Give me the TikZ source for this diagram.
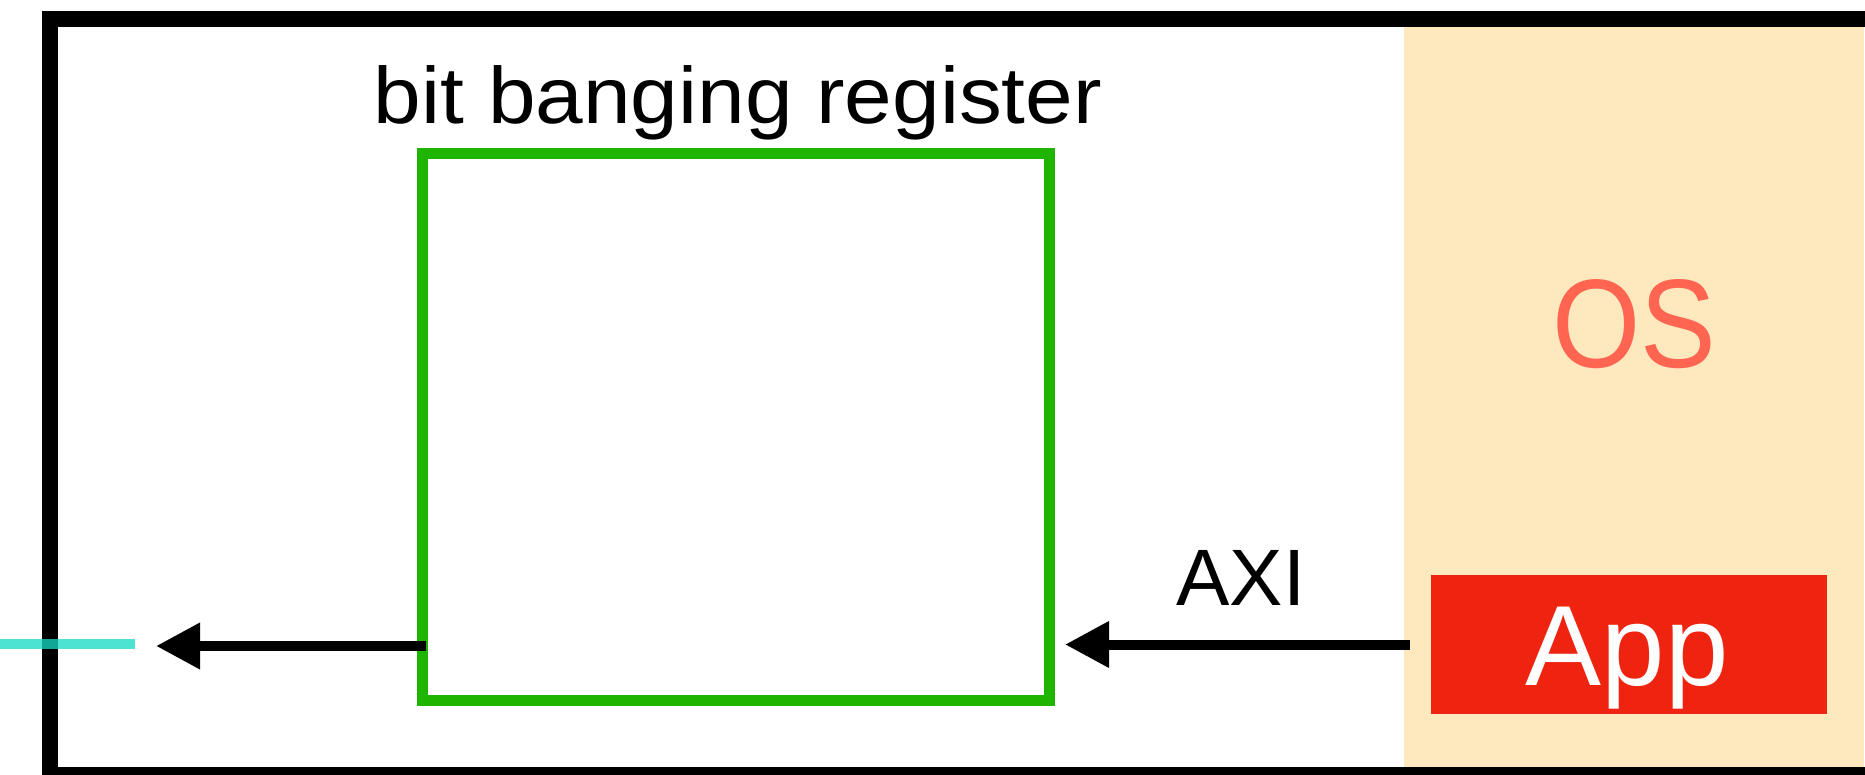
\documentclass[tikz,border=0pt]{standalone}
\usepackage{fontspec}
\setmainfont{Liberation Sans}
\newfontfamily\widefont[FakeStretch=1.07]{Liberation Sans}
\newfontfamily\narrowfont[FakeStretch=0.9]{Liberation Sans}
\usetikzlibrary{arrows.meta}
\definecolor{osbg}{HTML}{FEE8BD}
\definecolor{ostext}{HTML}{FF6550}
\definecolor{appred}{HTML}{EE2410}
\definecolor{reggreen}{HTML}{1EB400}
\definecolor{wire}{RGB}{23,218,197}
\tikzset{
  frame/.style={draw=black, line width=16pt},
  regbox/.style={draw=reggreen, line width=11pt, inner sep=0pt, outer sep=0pt,
    minimum width=627pt, minimum height=546pt},
  appbox/.style={fill=appred, inner sep=0pt, outer sep=0pt,
    minimum width=396pt, minimum height=139pt},
  conn/.style={line width=10pt, -{Triangle[length=44pt,width=44pt]}},
  lbl/.style={inner sep=0pt, anchor=base}
}
\begin{document}
\begin{tikzpicture}[x=1pt,y=-1pt]
\useasboundingbox (0,0) rectangle (1865,775);
\clip (0,0) rectangle (1865,775);
% OS region
\fill[osbg] (1404,27) rectangle (1864,767);
% outer frame
\draw[frame] (50,19) rectangle (1900,775);
% register box
\node[regbox] (reg) at (735.5,427) {};
\node[lbl] (reglbl) at (738,124) {\widefont\fontsize{80}{90}\selectfont bit banging register};
% App
\node[appbox] (app) at (1629,644.5) {};
\node[lbl, text=white] (applbl) at (1627,685) {\fontsize{114}{120}\selectfont App};
% OS label
\node[lbl, text=ostext] (oslbl) at (1634,367) {\narrowfont\fontsize{126}{130}\selectfont OS};
% AXI
\node[lbl] (axilbl) at (1241,605) {\fontsize{80}{90}\selectfont AXI};
\draw[conn, shorten <=21pt, shorten >=16pt] (app.west) -- (app.west -| reg.east);
% output arrow
\coordinate (tipL) at (156,646);
\coordinate (startL) at (426,646);
\draw[conn] (startL) -- (tipL);
% external wire
\coordinate (w1) at (0,644);
\coordinate (w2) at (135,644);
\draw[wire, line width=10pt, opacity=0.77] (w1) -- (w2);
\end{tikzpicture}
\end{document}
